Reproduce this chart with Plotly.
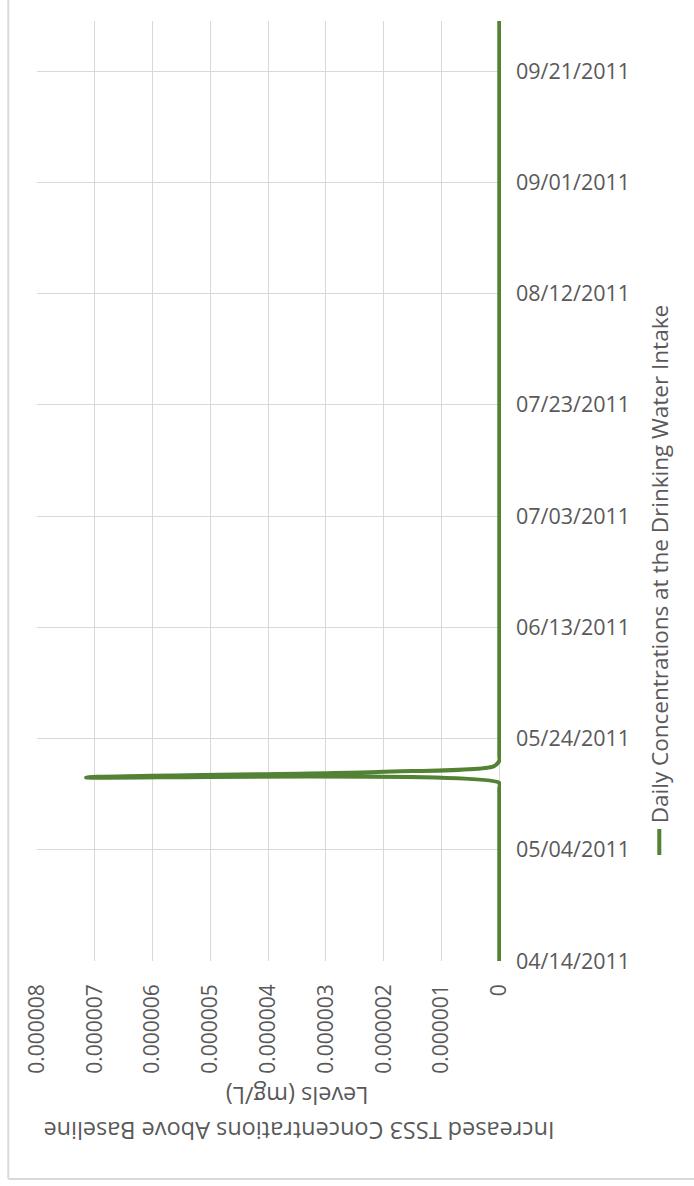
import plotly.graph_objects as go

# Daily TSS3 concentrations above baseline at the drinking water intake (mg/L)
dates = ["2011-04-14", "2011-05-13", "2011-05-14", "2011-05-15", "2011-05-16",
         "2011-05-17", "2011-05-18", "2011-05-19", "2011-05-20", "2011-05-21",
         "2011-05-22", "2011-09-30"]
concentrations = [0.0, 0.0, 0.0, 0.0, 0.0,
                  0.00000715, 0.0000021, 0.0000001, 0.0, 0.0,
                  0.0, 0.0]

series_name = "Daily Concentrations at the Drinking Water Intake"
value_ticks = [0.000008, 0.000007, 0.000006, 0.000005, 0.000004,
               0.000003, 0.000002, 0.000001, 0.0]
value_tick_labels = ["0.000008", "0.000007", "0.000006", "0.000005", "0.000004",
                     "0.000003", "0.000002", "0.000001", "0"]
date_ticks = ["2011-04-14", "2011-05-04", "2011-05-24", "2011-06-13", "2011-07-03",
              "2011-07-23", "2011-08-12", "2011-09-01", "2011-09-21"]
date_tick_labels = ["04/14/2011", "05/04/2011", "05/24/2011", "06/13/2011", "07/03/2011",
                    "07/23/2011", "08/12/2011", "09/01/2011", "09/21/2011"]
title_line1 = "Increased TSS3 Concentrations Above Baseline"
title_line2 = "Levels (mg/L)"

GREEN = "#548235"
GRID = "#D9D9D9"
TEXT = "#595959"
FONT = "Open Sans"

# page geometry (pixels)
FIG_W, FIG_H = 694, 1186
PLOT_L, PLOT_R = 36.7, 500.7
PLOT_T, PLOT_B = 21, 961
PW, PH = PLOT_R - PLOT_L, PLOT_B - PLOT_T


def px_x(px):
    return (px - PLOT_L) / PW


def px_y(py):
    return (PLOT_B - py) / PH


fig = go.Figure()
fig.add_trace(go.Scatter(
    x=concentrations, y=dates, mode="lines", name=series_name,
    line=dict(color=GREEN, width=4, shape="spline", smoothing=0.8),
    showlegend=False,
))

fig.update_xaxes(
    range=[0.000008, -0.00000003],
    tickvals=value_ticks, ticktext=value_tick_labels,
    tickangle=-90, ticklabelstandoff=18,
    showgrid=True, gridcolor=GRID, gridwidth=1,
    zeroline=False, showline=False, ticks="",
    tickfont=dict(family=FONT, size=21, color=TEXT),
)
fig.update_yaxes(
    type="date", range=["2011-04-14", "2011-09-30"],
    tickvals=date_ticks, ticktext=date_tick_labels,
    side="right", ticklabelstandoff=14,
    showgrid=True, gridcolor=GRID, gridwidth=1,
    zeroline=False, showline=False, ticks="",
    tickfont=dict(family=FONT, size=21.5, color=TEXT),
)

annotations = [
    dict(text=title_line1, x=px_x(299), y=px_y(1131), textangle=180, size=23.5),
    dict(text=title_line2, x=px_x(297), y=px_y(1096), textangle=180, size=23.5),
    dict(text=series_name, x=px_x(660), y=px_y(564), textangle=-90, size=22.5),
]
for a in annotations:
    size = a.pop("size")
    fig.add_annotation(xref="paper", yref="paper", showarrow=False,
                       xanchor="center", yanchor="middle",
                       font=dict(family=FONT, size=size, color=TEXT), **a)

# legend key
fig.add_shape(type="line", xref="paper", yref="paper",
              x0=px_x(659), x1=px_x(659), y0=px_y(855), y1=px_y(829),
              line=dict(color=GREEN, width=4))
# chart frame
fig.add_shape(type="line", xref="paper", yref="paper",
              x0=px_x(8), x1=px_x(8), y0=px_y(1179), y1=px_y(-5),
              line=dict(color=GRID, width=2))
fig.add_shape(type="line", xref="paper", yref="paper",
              x0=px_x(8), x1=px_x(700), y0=px_y(1179), y1=px_y(1179),
              line=dict(color=GRID, width=2))

fig.update_layout(
    width=FIG_W, height=FIG_H,
    margin=dict(l=PLOT_L, r=FIG_W - PLOT_R, t=PLOT_T, b=FIG_H - PLOT_B, autoexpand=False),
    paper_bgcolor="white", plot_bgcolor="white",
    showlegend=False,
)

fig.write_html("out.html")
